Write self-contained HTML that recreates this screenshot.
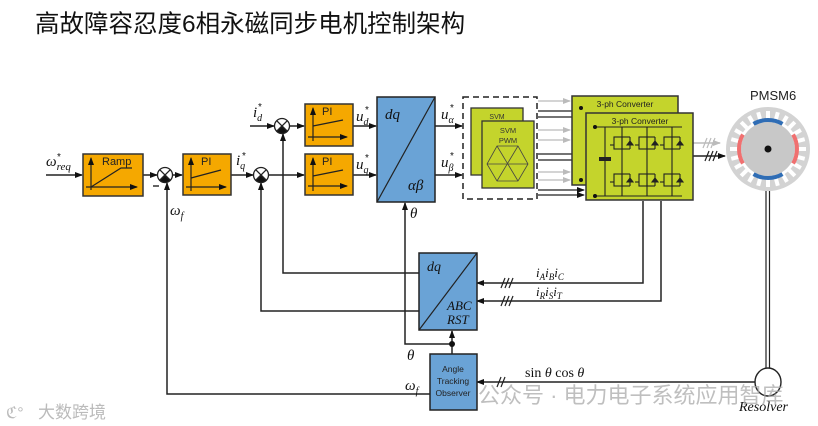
<!DOCTYPE html>
<html><head><meta charset="utf-8"><style>
html,body{margin:0;padding:0;background:#fff;}
svg{display:block;}
.m{font-family:"Liberation Serif",serif;font-style:italic;}
.s{font-family:"Liberation Sans",sans-serif;}
</style></head><body>
<svg width="818" height="426" viewBox="0 0 818 426" xmlns="http://www.w3.org/2000/svg">
<defs>
<marker id="a" markerWidth="8" markerHeight="6" refX="7" refY="3" orient="auto" markerUnits="userSpaceOnUse"><path d="M0,0 L8,3 L0,6 z" fill="#111"/></marker>
<marker id="g" markerWidth="8" markerHeight="6" refX="7" refY="3" orient="auto" markerUnits="userSpaceOnUse"><path d="M0,0 L8,3 L0,6 z" fill="#bbb"/></marker>
<rect id="slot" x="766" y="111" width="4" height="8" fill="#fff"/>
</defs>
<rect width="818" height="426" fill="#fff"/>
<text x="35" y="32" font-family="'Liberation Sans','Noto Sans CJK SC',sans-serif" font-size="24.5" fill="#111">高故障容忍度6相永磁同步电机控制架构</text>

<g stroke="#222" stroke-width="1.5" fill="none">
<line x1="46" y1="175" x2="82" y2="175" marker-end="url(#a)"/>
<line x1="143" y1="175" x2="157" y2="175" marker-end="url(#a)"/>
<line x1="173" y1="175" x2="182" y2="175" marker-end="url(#a)"/>
<line x1="231" y1="175" x2="253" y2="175" marker-end="url(#a)"/>
<line x1="269" y1="175" x2="304" y2="175" marker-end="url(#a)"/>
<line x1="250" y1="126" x2="274" y2="126" marker-end="url(#a)"/>
<line x1="290" y1="126" x2="304" y2="126" marker-end="url(#a)"/>
<line x1="353" y1="126" x2="376" y2="126" marker-end="url(#a)"/>
<line x1="353" y1="175" x2="376" y2="175" marker-end="url(#a)"/>
<line x1="435" y1="126" x2="462" y2="126" marker-end="url(#a)"/>
<line x1="435" y1="175" x2="462" y2="175" marker-end="url(#a)"/>
<polyline points="430,394 167,394 167,183" marker-end="url(#a)"/>
<polyline points="419,311 261,311 261,183" marker-end="url(#a)"/>
<polyline points="419,273 283,273 283,134" marker-end="url(#a)"/>
<polyline points="452,344 405,344 405,203" marker-end="url(#a)"/>
<line x1="452" y1="354" x2="452" y2="331" marker-end="url(#a)"/>
<polyline points="643,201 643,283 477,283" marker-end="url(#a)"/>
<polyline points="661,201 661,301 477,301" marker-end="url(#a)"/>
<polyline points="755,382 477,382" marker-end="url(#a)"/>
<line x1="693" y1="156" x2="725" y2="156" marker-end="url(#a)"/>
</g>
<line x1="678" y1="143" x2="720" y2="143" stroke="#bbb" stroke-width="1.5" marker-end="url(#g)"/>
<circle cx="452" cy="344" r="3" fill="#111"/>
<g stroke="#222" stroke-width="1.2">
<line x1="501" y1="288" x2="505" y2="278"/><line x1="505" y1="288" x2="509" y2="278"/><line x1="509" y1="288" x2="513" y2="278"/>
<line x1="501" y1="306" x2="505" y2="296"/><line x1="505" y1="306" x2="509" y2="296"/><line x1="509" y1="306" x2="513" y2="296"/>
<line x1="497" y1="387" x2="501" y2="377"/><line x1="501" y1="387" x2="505" y2="377"/>
<line x1="705" y1="161" x2="709" y2="151"/><line x1="709" y1="161" x2="713" y2="151"/><line x1="713" y1="161" x2="717" y2="151"/>
</g>
<g stroke="#bbb" stroke-width="1.2">
<line x1="703" y1="148" x2="707" y2="138"/><line x1="707" y1="148" x2="711" y2="138"/><line x1="711" y1="148" x2="715" y2="138"/>
</g>

<g stroke="#222" stroke-width="1.3">
<g transform="translate(165,175)"><circle r="7.5" fill="#fff"/><path d="M-5.3,5.3 A7.5,7.5 0 0 0 5.3,5.3 L0,0z" fill="#111"/><line x1="-5.3" y1="-5.3" x2="5.3" y2="5.3"/><line x1="5.3" y1="-5.3" x2="-5.3" y2="5.3"/></g>
<g transform="translate(261,175)"><circle r="7.5" fill="#fff"/><path d="M-5.3,5.3 A7.5,7.5 0 0 0 5.3,5.3 L0,0z" fill="#111"/><line x1="-5.3" y1="-5.3" x2="5.3" y2="5.3"/><line x1="5.3" y1="-5.3" x2="-5.3" y2="5.3"/></g>
<g transform="translate(282,126)"><circle r="7.5" fill="#fff"/><path d="M-5.3,5.3 A7.5,7.5 0 0 0 5.3,5.3 L0,0z" fill="#111"/><line x1="-5.3" y1="-5.3" x2="5.3" y2="5.3"/><line x1="5.3" y1="-5.3" x2="-5.3" y2="5.3"/></g>
</g>
<line x1="153" y1="186" x2="159" y2="186" stroke="#111" stroke-width="1.3"/>

<g stroke="#333" stroke-width="1.5" fill="#f5a800">
<rect x="83" y="154" width="60" height="42"/>
<rect x="183" y="154" width="48" height="41"/>
<rect x="305" y="104" width="48" height="42"/>
<rect x="305" y="154" width="48" height="41"/>
</g>
<g stroke="#222" stroke-width="1.2" fill="none">
<line x1="86" y1="187" x2="137" y2="187" marker-end="url(#a)"/><line x1="91" y1="190" x2="91" y2="158" marker-end="url(#a)"/><polyline points="91,187 121,168 132,168"/>
<line x1="186" y1="187" x2="226" y2="187" marker-end="url(#a)"/><line x1="191" y1="191" x2="191" y2="158" marker-end="url(#a)"/><polyline points="191,178 221,170"/>
<line x1="308" y1="137" x2="347" y2="137" marker-end="url(#a)"/><line x1="313" y1="141" x2="313" y2="108" marker-end="url(#a)"/><polyline points="313,126 343,120"/>
<line x1="308" y1="186" x2="347" y2="186" marker-end="url(#a)"/><line x1="313" y1="191" x2="313" y2="158" marker-end="url(#a)"/><polyline points="313,176 343,170"/>
</g>
<g class="s" font-size="11" fill="#222">
<text x="102" y="165">Ramp</text><text x="201" y="165">PI</text><text x="322" y="115">PI</text><text x="322" y="165">PI</text>
</g>

<g stroke="#222" stroke-width="1.5" fill="#6aa3d6">
<rect x="377" y="97" width="58" height="105"/>
<rect x="419" y="253" width="58" height="77"/>
<rect x="430" y="354" width="47" height="56"/>
</g>
<line x1="377" y1="202" x2="435" y2="97" stroke="#222" stroke-width="1.2"/>
<line x1="419" y1="330" x2="477" y2="253" stroke="#222" stroke-width="1.2"/>
<g class="m" fill="#111">
<text x="385" y="119" font-size="15">dq</text>
<text x="408" y="190" font-size="15">αβ</text>
<text x="427" y="271" font-size="14">dq</text>
<text x="447" y="310" font-size="13">ABC</text>
<text x="447" y="324" font-size="13">RST</text>
</g>
<g class="s" font-size="8.5" fill="#222" text-anchor="middle">
<text x="453" y="372">Angle</text><text x="453" y="384">Tracking</text><text x="453" y="396">Observer</text>
</g>

<g class="m" fill="#111" font-size="15">
<text x="46" y="166">ω<tspan font-size="11" dy="4">req</tspan></text>
<text x="170" y="215">ω<tspan font-size="10" dy="4">f</tspan></text>
<text x="236" y="165">i<tspan font-size="10" dy="4">q</tspan></text>
<text x="253" y="117">i<tspan font-size="10" dy="4">d</tspan></text>
<text x="356" y="121">u<tspan font-size="10" dy="4">d</tspan></text>
<text x="356" y="169">u<tspan font-size="10" dy="4">q</tspan></text>
<text x="441" y="119">u<tspan font-size="10" dy="4">α</tspan></text>
<text x="441" y="167">u<tspan font-size="10" dy="4">β</tspan></text>
<text x="410" y="218">θ</text>
<text x="407" y="360">θ</text>
<text x="405" y="390">ω<tspan font-size="10" dy="4">f</tspan></text>
<text x="536" y="277" font-size="13">i<tspan font-size="9" dy="3">A</tspan><tspan dy="-3">i</tspan><tspan font-size="9" dy="3">B</tspan><tspan dy="-3">i</tspan><tspan font-size="9" dy="3">C</tspan></text>
<text x="536" y="296" font-size="13">i<tspan font-size="9" dy="3">R</tspan><tspan dy="-3">i</tspan><tspan font-size="9" dy="3">S</tspan><tspan dy="-3">i</tspan><tspan font-size="9" dy="3">T</tspan></text>
</g>
<g font-family="'Liberation Sans',sans-serif" font-size="10" fill="#111">
<text x="57" y="160">*</text><text x="242" y="159">*</text><text x="258" y="110">*</text>
<text x="365" y="113">*</text><text x="365" y="161">*</text><text x="450" y="111">*</text><text x="450" y="159">*</text>
</g>
<text x="525" y="377" font-family="'Liberation Serif',serif" font-size="14" fill="#111">sin <tspan font-style="italic">θ</tspan>  cos <tspan font-style="italic">θ</tspan></text>
<text x="739" y="411" class="m" font-size="14" fill="#111">Resolver</text>

<rect x="463" y="97" width="74" height="102" fill="none" stroke="#222" stroke-width="1.5" stroke-dasharray="6,4"/>
<rect x="471" y="108" width="52" height="67" fill="#c4d42c" stroke="#333" stroke-width="1.3"/>
<rect x="482" y="121" width="52" height="67" fill="#c4d42c" stroke="#333" stroke-width="1.3"/>
<text x="497" y="119" class="s" font-size="7" fill="#333" text-anchor="middle">SVM</text>
<text x="508" y="133" class="s" font-size="7.5" fill="#333" text-anchor="middle">SVM</text>
<text x="508" y="143" class="s" font-size="7.5" fill="#333" text-anchor="middle">PWM</text>
<g stroke="#444" stroke-width="0.8" fill="none">
<polygon points="497,146 518,146 528,164 518,181 497,181 487,164"/>
<line x1="497" y1="146" x2="518" y2="181"/><line x1="518" y1="146" x2="497" y2="181"/><line x1="487" y1="164" x2="528" y2="164"/>
</g>
<g stroke-width="1.3">
<line x1="538" y1="101" x2="570" y2="101" stroke="#bbb" marker-end="url(#g)"/>
<line x1="538" y1="111" x2="584" y2="111" stroke="#222" marker-end="url(#a)"/>
<line x1="538" y1="117" x2="584" y2="117" stroke="#222" marker-end="url(#a)"/>
<line x1="538" y1="130" x2="570" y2="130" stroke="#bbb" marker-end="url(#g)"/>
<line x1="538" y1="140" x2="570" y2="140" stroke="#bbb" marker-end="url(#g)"/>
<line x1="538" y1="154" x2="584" y2="154" stroke="#222" marker-end="url(#a)"/>
<line x1="538" y1="160" x2="584" y2="160" stroke="#222" marker-end="url(#a)"/>
<line x1="538" y1="172" x2="570" y2="172" stroke="#bbb" marker-end="url(#g)"/>
<line x1="538" y1="180" x2="570" y2="180" stroke="#bbb" marker-end="url(#g)"/>
<line x1="538" y1="190" x2="584" y2="190" stroke="#222" marker-end="url(#a)"/>
<line x1="538" y1="195" x2="584" y2="195" stroke="#222" marker-end="url(#a)"/>
</g>
<rect x="572" y="96" width="106" height="89" fill="#c4d42c" stroke="#333" stroke-width="1.5"/>
<text x="625" y="107" class="s" font-size="8.5" fill="#222" text-anchor="middle">3-ph Converter</text>
<rect x="586" y="113" width="107" height="87" fill="#c4d42c" stroke="#333" stroke-width="1.5"/>
<text x="640" y="124" class="s" font-size="8.5" fill="#222" text-anchor="middle">3-ph Converter</text>
<g stroke="#222" stroke-width="1.1" fill="none">
<line x1="595" y1="127" x2="682" y2="127"/><line x1="595" y1="196" x2="682" y2="196"/>
<line x1="605" y1="127" x2="605" y2="196"/>
<line x1="622" y1="127" x2="622" y2="196"/><line x1="647" y1="127" x2="647" y2="196"/><line x1="672" y1="127" x2="672" y2="196"/>
<g id="sw"><rect x="614" y="137" width="8" height="12"/><line x1="630" y1="137" x2="630" y2="149"/><path d="M627,145 L633,145 L630,141z" fill="#222"/><line x1="622" y1="137" x2="630" y2="137"/><line x1="622" y1="149" x2="630" y2="149"/><line x1="610" y1="145" x2="614" y2="145"/></g>
<use href="#sw" x="25"/><use href="#sw" x="50"/>
<use href="#sw" y="37"/><use href="#sw" x="25" y="37"/><use href="#sw" x="50" y="37"/>
</g>
<rect x="599" y="157" width="12" height="4" fill="#222"/>
<circle cx="595" cy="127" r="2" fill="#111"/><circle cx="595" cy="196" r="2" fill="#111"/>
<circle cx="581" cy="108" r="2" fill="#111"/><circle cx="581" cy="180" r="2" fill="#111"/>

<!-- motor -->
<text x="750" y="100" class="s" font-size="13" fill="#222">PMSM6</text>
<circle cx="768" cy="149" r="42" fill="#d3d3d3"/>
<use href="#slot"/><use href="#slot" transform="rotate(15 768 149)"/><use href="#slot" transform="rotate(30 768 149)"/><use href="#slot" transform="rotate(45 768 149)"/>
<use href="#slot" transform="rotate(60 768 149)"/><use href="#slot" transform="rotate(75 768 149)"/><use href="#slot" transform="rotate(90 768 149)"/><use href="#slot" transform="rotate(105 768 149)"/>
<use href="#slot" transform="rotate(120 768 149)"/><use href="#slot" transform="rotate(135 768 149)"/><use href="#slot" transform="rotate(150 768 149)"/><use href="#slot" transform="rotate(165 768 149)"/>
<use href="#slot" transform="rotate(180 768 149)"/><use href="#slot" transform="rotate(195 768 149)"/><use href="#slot" transform="rotate(210 768 149)"/><use href="#slot" transform="rotate(225 768 149)"/>
<use href="#slot" transform="rotate(240 768 149)"/><use href="#slot" transform="rotate(255 768 149)"/><use href="#slot" transform="rotate(270 768 149)"/><use href="#slot" transform="rotate(285 768 149)"/>
<use href="#slot" transform="rotate(300 768 149)"/><use href="#slot" transform="rotate(315 768 149)"/><use href="#slot" transform="rotate(330 768 149)"/><use href="#slot" transform="rotate(345 768 149)"/>
<circle cx="768" cy="149" r="30" fill="#fff"/>
<circle cx="768" cy="149" r="27" fill="#c8c8c8"/>
<g fill="none" stroke-width="4">
<path d="M753.5,123.9 A29,29 0 0 1 782.5,123.9" stroke="#2f6db5"/>
<path d="M782.5,174.1 A29,29 0 0 1 753.5,174.1" stroke="#2f6db5"/>
<path d="M742.9,163.5 A29,29 0 0 1 742.9,134.5" stroke="#f07070"/>
<path d="M793.1,134.5 A29,29 0 0 1 793.1,163.5" stroke="#f07070"/>
</g>
<circle cx="768" cy="149" r="3.5" fill="#111"/>
<line x1="766" y1="191" x2="766" y2="369" stroke="#222" stroke-width="1.2"/>
<line x1="769.5" y1="191" x2="769.5" y2="369" stroke="#222" stroke-width="1.2"/>
<ellipse cx="768" cy="382" rx="13" ry="14" fill="#fff" stroke="#222" stroke-width="1.4"/>

<text x="478" y="403" font-family="'Liberation Sans','Noto Sans CJK SC',sans-serif" font-size="22" fill="#aaa" fill-opacity="0.75">公众号 · 电力电子系统应用智库</text>
<text x="38" y="418" font-family="'Noto Sans CJK SC',sans-serif" font-size="17" fill="#bbb">大数跨境</text>
<text x="6" y="418" font-family="'Liberation Sans',sans-serif" font-size="16" fill="#bbb">ℭ°</text>
</svg>
</body></html>
